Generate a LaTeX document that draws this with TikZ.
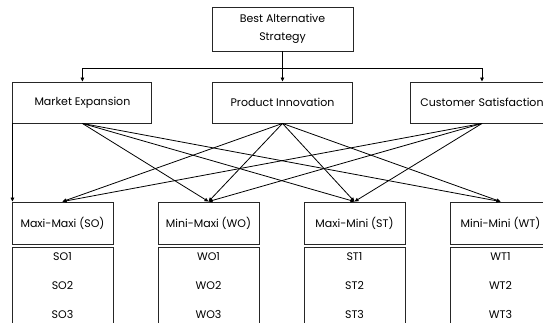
\documentclass[tikz,border=0pt]{standalone}
\usepackage{fontspec}
\setmainfont{Poppins}
\usetikzlibrary{arrows.meta,calc}
\begin{document}
\begin{tikzpicture}[x=1pt,y=-1pt,
  box/.style={draw=black!85,line width=0.9pt,minimum height=41pt,inner sep=2pt,font=\fontsize{11}{17.5}\selectfont,align=center},
  item/.style={font=\fontsize{11}{12}\selectfont,inner sep=0pt},
  conn/.style={line width=0.8pt,-{Triangle[length=4pt,width=3.6pt]}}]
\useasboundingbox (0,0) rectangle (543,322);
\clip (0,0) rectangle (543,322);
% top
\node[box,minimum width=141pt,minimum height=44pt] (top) at (282.5,29) {Best Alternative\\Strategy};
% middle
\node[box,minimum width=139pt] (me) at (82.4,102.5) {Market Expansion};
\node[box,minimum width=140pt] (pi) at (282.5,102.5) {Product Innovation};
\node[box,minimum width=140pt,text width=140pt] (cs) at (482,102.5) {Customer Satisfaction};
% bottom headers
\node[box,minimum width=101pt,minimum height=42pt] (so) at (62.5,223) {Maxi-Maxi (SO)};
\node[box,minimum width=101pt,minimum height=42pt] (wo) at (208.5,223) {Mini-Maxi (WO)};
\node[box,minimum width=101pt,minimum height=42pt] (st) at (354.5,223) {Maxi-Mini (ST)};
\node[box,minimum width=101pt,minimum height=42pt] (wt) at (500.5,223) {Mini-Mini (WT)};
% list boxes
\node[draw=black!85,line width=0.9pt,minimum width=101pt,minimum height=90pt,inner sep=0pt,anchor=north] (sol) at (62.5,246.5) {};
\node[draw=black!85,line width=0.9pt,minimum width=101pt,minimum height=90pt,inner sep=0pt,anchor=north] (wol) at (208.5,246.5) {};
\node[draw=black!85,line width=0.9pt,minimum width=101pt,minimum height=90pt,inner sep=0pt,anchor=north] (stl) at (354.5,246.5) {};
\node[draw=black!85,line width=0.9pt,minimum width=101pt,minimum height=90pt,inner sep=0pt,anchor=north] (wtl) at (500.5,246.5) {};
% items
\node[item] (so1) at (62.5,256.7) {SO1};
\node[item] (so2) at (62.5,285.7) {SO2};
\node[item] (so3) at (62.5,314.3) {SO3};
\node[item] (wo1) at (208.5,256.7) {WO1};
\node[item] (wo2) at (208.5,285.7) {WO2};
\node[item] (wo3) at (208.5,314.3) {WO3};
\node[item] (st1) at (354.5,256.7) {ST1};
\node[item] (st2) at (354.5,285.7) {ST2};
\node[item] (st3) at (354.5,314.3) {ST3};
\node[item] (wt1) at (500.5,256.7) {WT1};
\node[item] (wt2) at (500.5,285.7) {WT2};
\node[item] (wt3) at (500.5,314.3) {WT3};
% top connectors
\coordinate (j) at ($(top.south)+(0,17)$);
\draw[conn] (top.south) -- (pi.north);
\draw[conn] (j) -| (me.north);
\draw[conn] (j) -| (cs.north);
% middle to bottom
\draw[conn] (me.south west) -- (me.south west |- so.north);
\draw[conn] (me.south) -- (wo.north);
\draw[conn] (me.south) -- (st.north);
\draw[conn] (me.south) -- (wt.north);
\draw[conn] (pi.south) -- (so.north);
\draw[conn] (pi.south) -- (wo.north);
\draw[conn] (pi.south) -- (st.north);
\draw[conn] (pi.south) -- (wt.north);
\draw[conn] (cs.south) -- (so.north);
\draw[conn] (cs.south) -- (wo.north);
\draw[conn] (cs.south) -- (st.north);
\end{tikzpicture}
\end{document}
